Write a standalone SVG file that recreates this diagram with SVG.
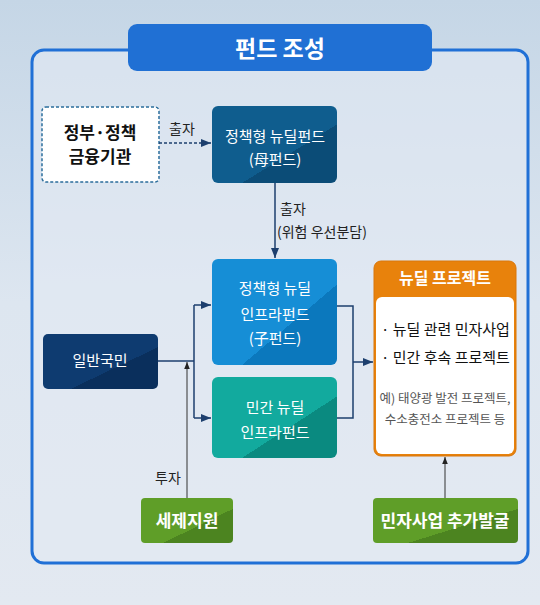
<svg xmlns="http://www.w3.org/2000/svg" width="540" height="605" viewBox="0 0 540 605">
<defs>
<linearGradient id="bg" x1="0" y1="0" x2="0" y2="1">
<stop offset="0" stop-color="#c5d6e6"/><stop offset="0.5" stop-color="#dde6f0"/><stop offset="1" stop-color="#e3e9f1"/>
</linearGradient>
<linearGradient id="gMom" x1="0" y1="0" x2="1" y2="1"><stop offset="0.62" stop-color="#0f5d8e"/><stop offset="0.62" stop-color="#0b4c77"/></linearGradient>
<linearGradient id="gChild" x1="0" y1="0" x2="1" y2="1"><stop offset="0.62" stop-color="#168ed6"/><stop offset="0.62" stop-color="#0b78bd"/></linearGradient>
<linearGradient id="gPriv" x1="0" y1="0" x2="1" y2="1"><stop offset="0.62" stop-color="#12aa9e"/><stop offset="0.62" stop-color="#0a8a80"/></linearGradient>
<linearGradient id="gNat" x1="0" y1="0" x2="1" y2="1"><stop offset="0.62" stop-color="#0e3b70"/><stop offset="0.62" stop-color="#0a2f5c"/></linearGradient>
<linearGradient id="gGreen" x1="0" y1="0" x2="1" y2="1"><stop offset="0.62" stop-color="#5f9e28"/><stop offset="0.62" stop-color="#4c8420"/></linearGradient>
<marker id="ah" viewBox="0 0 10 10" refX="10" refY="5" markerWidth="7" markerHeight="7" orient="auto"><path d="M0,1 L10,5 L0,9 Z" fill="#1d3f6e"/></marker>
<marker id="ahk" viewBox="0 0 10 10" refX="10" refY="5" markerWidth="7" markerHeight="7" orient="auto"><path d="M0,1 L10,5 L0,9 Z" fill="#222"/></marker>
<style>
text{font-family:"Noto Sans CJK KR","Noto Sans",sans-serif;text-anchor:middle}
.w{fill:#fff;font-size:15px}
.wb{fill:#fff;font-size:17px;font-weight:bold}
.k{fill:#222;font-size:14px}
.ln{fill:none;stroke:#1d3f6e;stroke-width:1.5}
.lk{fill:none;stroke:#333;stroke-width:1}
</style>
</defs>
<rect width="540" height="605" fill="url(#bg)"/>
<rect x="32" y="50" width="496" height="513" rx="12" fill="#e2eaf3" fill-opacity="0.6" stroke="#2070d6" stroke-width="3"/>
<g id="title">
<rect x="128" y="24" width="304" height="47" rx="9" fill="#2070d4"/>
<text x="280" y="57" style="fill:#fff;font-size:23px;font-weight:bold">펀드 조성</text>
</g>
<g id="gov">
<rect x="42" y="107" width="117" height="75" rx="4" fill="#fff" stroke="#2b6e9c" stroke-width="1.5" stroke-dasharray="3,2"/>
<text x="100" y="139" style="fill:#111;font-size:17px;font-weight:bold">정부·정책</text>
<text x="100" y="163" style="fill:#111;font-size:17px;font-weight:bold">금융기관</text>
</g>
<g id="momfund">
<rect x="212" y="106" width="125" height="77" rx="6" fill="url(#gMom)"/>
<text class="w" x="275" y="142">정책형 뉴딜펀드</text>
<text class="w" x="275" y="165">(母펀드)</text>
</g>
<g id="childfund">
<rect x="212" y="259" width="125" height="106" rx="6" fill="url(#gChild)"/>
<text class="w" x="275" y="294">정책형 뉴딜</text>
<text class="w" x="275" y="320">인프라펀드</text>
<text class="w" x="275" y="344">(子펀드)</text>
</g>
<g id="privfund">
<rect x="212" y="377" width="125" height="81" rx="6" fill="url(#gPriv)"/>
<text class="w" x="275" y="413">민간 뉴딜</text>
<text class="w" x="275" y="438">인프라펀드</text>
</g>
<g id="public">
<rect x="43" y="334" width="115" height="55" rx="5" fill="url(#gNat)"/>
<text class="w" x="100" y="366">일반국민</text>
</g>
<g id="project">
<rect x="374" y="261" width="142" height="195" rx="7" fill="#e8820c" stroke="#d9760a" stroke-width="1"/>
<rect x="376" y="297" width="138" height="157" rx="6" fill="#fff"/>
<text x="445" y="284" style="fill:#fff;font-size:16px;font-weight:bold">뉴딜 프로젝트</text>
<text x="381" y="335" style="fill:#111;font-size:15px;text-anchor:start">· 뉴딜 관련 민자사업</text>
<text x="381" y="363" style="fill:#111;font-size:15px;text-anchor:start">· 민간 후속 프로젝트</text>
<text x="445" y="403" style="fill:#555;font-size:12.5px">예) 태양광 발전 프로젝트,</text>
<text x="445" y="424" style="fill:#555;font-size:12.5px">수소충전소 프로젝트 등</text>
</g>
<g id="tax">
<rect x="141" y="498" width="92" height="45" rx="4" fill="url(#gGreen)"/>
<text class="wb" x="187" y="527">세제지원</text>
</g>
<g id="extra">
<rect x="373" y="498" width="145" height="45" rx="4" fill="url(#gGreen)"/>
<text class="wb" x="445" y="527">민자사업 추가발굴</text>
</g>
<g id="connectors">
<path class="ln" d="M159,143 H211" stroke-dasharray="3,2" marker-end="url(#ah)"/>
<text class="k" x="182" y="134">출자</text>
<path class="ln" d="M275,183 V258" marker-end="url(#ah)"/>
<text class="k" x="280" y="214" style="text-anchor:start">출자</text>
<text class="k" x="277" y="237" style="text-anchor:start">(위험 우선분담)</text>
<path class="ln" d="M158,361 H194"/>
<path class="ln" d="M194,305 V418"/>
<path class="ln" d="M194,305 H211" marker-end="url(#ah)"/>
<path class="ln" d="M194,418 H211" marker-end="url(#ah)"/>
<path class="lk" d="M187,498 V362" marker-end="url(#ahk)"/>
<text class="k" x="168" y="483">투자</text>
<path class="ln" d="M337,306 H353 V418 H337"/>
<path class="ln" d="M353,362 H373" marker-end="url(#ah)"/>
<path class="lk" d="M445,498 V457" marker-end="url(#ahk)"/>
</g>
</svg>
